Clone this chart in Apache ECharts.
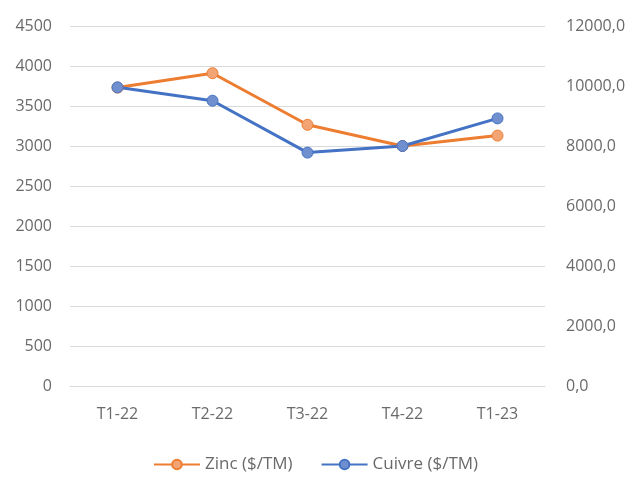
<!DOCTYPE html>
<html>
<head>
<meta charset="utf-8">
<script src="https://cdn.jsdelivr.net/npm/echarts@6/dist/echarts.min.js"></script>
<style>
  html, body { margin: 0; padding: 0; background: #fff; }
  #chart { width: 631px; height: 478px; }
</style>
</head>
<body>
<div id="chart"></div>
<script>
const categories = ['T1-22', 'T2-22', 'T3-22', 'T4-22', 'T1-23']
const zinc = [3730, 3910, 3265, 3000, 3130]
const cuivre = [9955, 9510, 7780, 8000, 8920]

const zincColor = '#ED7D31'
const cuivreColor = '#4472C4'
const textColor = '#6a6a6a'
const font = '"Open Sans", Lato, sans-serif'

const chart = echarts.init(document.getElementById('chart'))
chart.setOption({
  animation: false,
  textStyle: { fontFamily: font },
  grid: { left: 70, right: 86, top: 26, bottom: 92 },
  legend: {
    bottom: 0,
    left: 'center',
    itemWidth: 46,
    itemHeight: 12,
    itemGap: 28,
    textStyle: { color: textColor, fontSize: 17, fontFamily: font },
    data: ['Zinc ($/TM)', 'Cuivre ($/TM)']
  },
  xAxis: {
    type: 'category',
    data: categories,
    axisLine: { lineStyle: { color: '#d9d9d9', width: 1 } },
    axisTick: { show: false },
    axisLabel: { color: textColor, fontSize: 16, margin: 20 }
  },
  yAxis: [
    {
      type: 'value',
      min: 0,
      max: 4500,
      interval: 500,
      axisLine: { show: false },
      axisTick: { show: false },
      axisLabel: { color: textColor, fontSize: 16, margin: 18, formatter: v => String(v) },
      splitLine: { lineStyle: { color: '#d9d9d9', width: 1 } }
    },
    {
      type: 'value',
      min: 0,
      max: 12000,
      interval: 2000,
      axisLine: { show: false },
      axisTick: { show: false },
      splitLine: { show: false },
      axisLabel: {
        color: textColor,
        fontSize: 16,
        margin: 21,
        formatter: v => v.toFixed(1).replace('.', ',')
      }
    }
  ],
  series: [
    {
      name: 'Zinc ($/TM)',
      type: 'line',
      data: zinc,
      yAxisIndex: 0,
      symbol: 'circle',
      symbolSize: 11,
      lineStyle: { color: zincColor, width: 3 },
      itemStyle: { color: '#F3A474', borderColor: zincColor, borderWidth: 1 }
    },
    {
      name: 'Cuivre ($/TM)',
      type: 'line',
      data: cuivre,
      yAxisIndex: 1,
      symbol: 'circle',
      symbolSize: 11,
      lineStyle: { color: cuivreColor, width: 3 },
      itemStyle: { color: '#6F8FCF', borderColor: cuivreColor, borderWidth: 1 }
    }
  ]
})
</script>
</body>
</html>
